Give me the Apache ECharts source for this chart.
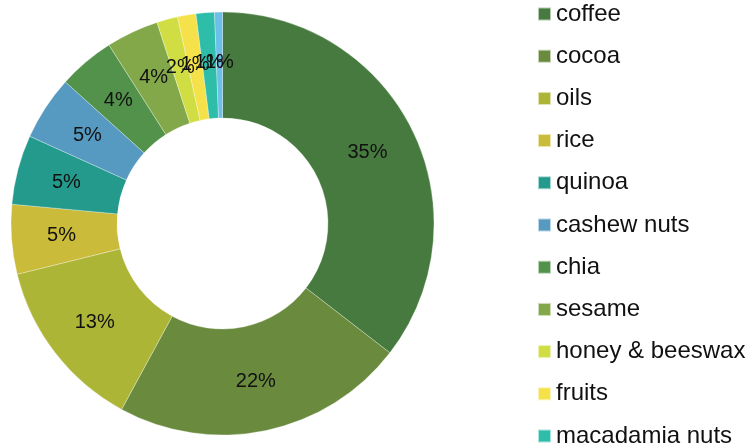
<!DOCTYPE html>
<html>
<head>
<meta charset="utf-8">
<script src="https://cdn.jsdelivr.net/npm/echarts@6/dist/echarts.min.js"></script>
<style>
  html, body { margin: 0; padding: 0; background: #fff; }
  #chart { width: 753px; height: 446px; }
</style>
</head>
<body>
<div id="chart"></div>
<script>
// product shares (percent)
const categories = ['coffee', 'cocoa', 'oils', 'rice', 'quinoa', 'cashew nuts', 'chia', 'sesame',
  'honey & beeswax', 'fruits', 'macadamia nuts', 'other'];
const shares = [35.4, 22.4, 13.2, 5.3, 5.3, 4.9, 4.3, 4.0, 1.6, 1.4, 1.4, 0.6];
const colors = ['#467a3e', '#6a8b3e', '#adb536', '#cbbb3a', '#239a8b', '#569ac2', '#52924a',
  '#82a84a', '#d0de44', '#f5e14a', '#2dbda9', '#6bbfe8'];

const chart = echarts.init(document.getElementById('chart'));

chart.setOption({
  animation: false,
  color: colors,
  textStyle: { fontFamily: '"Liberation Sans", Arial, sans-serif' },
  legend: {
    orient: 'vertical',
    left: 537,
    top: 2,
    height: 700,
    padding: 0,
    itemWidth: 13,
    itemHeight: 13,
    itemGap: 18.2,
    icon: 'rect',
    textStyle: { fontSize: 24, color: '#111' },
    data: categories
  },
  series: [
    {
      type: 'pie',
      center: [222.5, 223.5],
      radius: [105.5, 211.5],
      startAngle: 90,
      clockwise: true,
      avoidLabelOverlap: false,
      itemStyle: { borderColor: 'rgba(255,255,255,0.6)', borderWidth: 0.5 },
      label: {
        show: true,
        position: 'inside',
        fontSize: 20,
        color: '#111',
        formatter: (p) => Math.round(p.percent) + '%'
      },
      labelLayout: { hideOverlap: false },
      labelLine: { show: false },
      emphasis: { disabled: true },
      data: categories.map((name, i) => ({ name: name, value: shares[i] }))
    }
  ]
});
</script>
</body>
</html>
